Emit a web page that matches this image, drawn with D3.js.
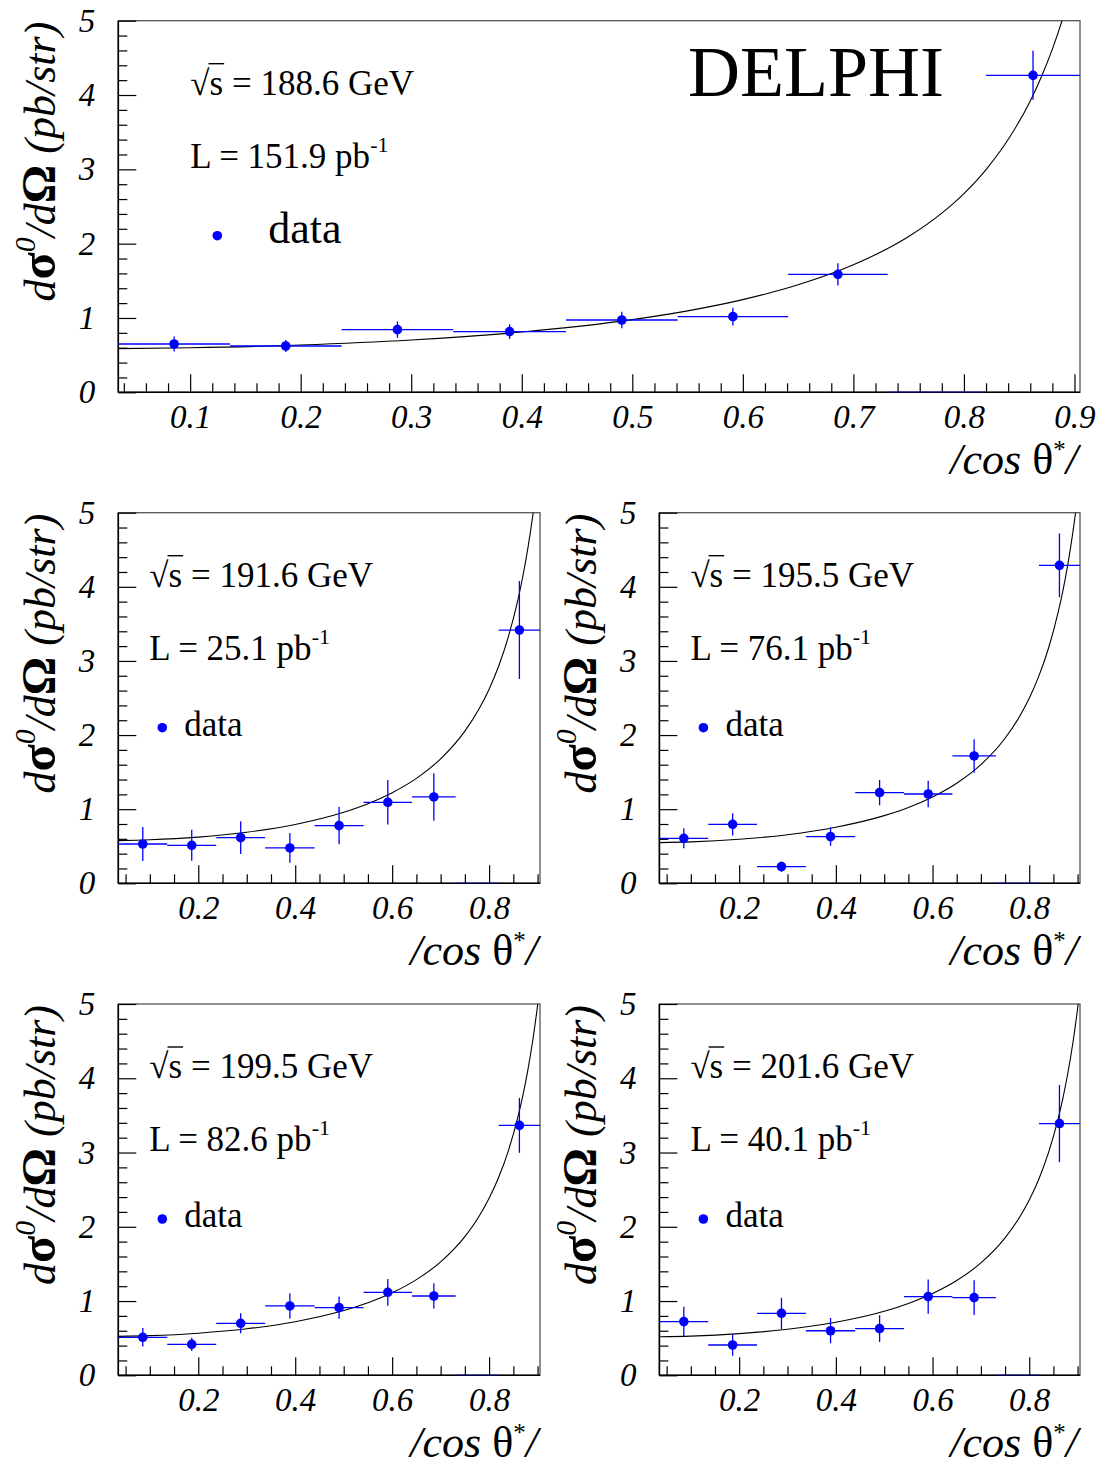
<!DOCTYPE html>
<html>
<head>
<meta charset="utf-8">
<script src="https://cdn.jsdelivr.net/npm/d3@7"></script>
<style>
  body { margin: 0; background: #fff; }
  svg { display: block; }
  text { font-family: "Liberation Serif", "Times New Roman", serif; fill: #000; }
</style>
</head>
<body>
<svg id="chart" width="1102" height="1469"></svg>
<script>
// |cos theta*| bins
const binLo  = [0.035, 0.136, 0.237, 0.338, 0.440, 0.541, 0.641, 0.731, 0.820];
const binHi  = [0.136, 0.237, 0.338, 0.440, 0.541, 0.641, 0.731, 0.820, 0.905];
const binMid = [0.0855, 0.1865, 0.2875, 0.389, 0.4905, 0.591, 0.686, 0.7755, 0.8625];

// measured dsigma/dOmega (pb/str) and errors
const y188 = [0.650, 0.623, 0.843, 0.816, 0.973, 1.018, 1.587, 0, 4.265];
const e188 = [0.10, 0.08, 0.11, 0.10, 0.11, 0.12, 0.15, 0, 0.33];
const y191 = [0.530, 0.513, 0.616, 0.477, 0.778, 1.093, 1.165, 0, 3.417];
const e191 = [0.23, 0.21, 0.22, 0.20, 0.25, 0.30, 0.32, 0, 0.66];
const y195 = [0.607, 0.796, 0.225, 0.630, 1.223, 1.205, 1.718, 0, 4.290];
const e195 = [0.135, 0.15, 0.07, 0.125, 0.17, 0.18, 0.225, 0, 0.43];
const y199 = [0.512, 0.417, 0.700, 0.934, 0.911, 1.118, 1.068, 0, 3.366];
const e199 = [0.125, 0.09, 0.135, 0.17, 0.15, 0.18, 0.17, 0, 0.37];
const y201 = [0.723, 0.408, 0.835, 0.600, 0.628, 1.060, 1.046, 0, 3.390];
const e201 = [0.20, 0.146, 0.21, 0.17, 0.18, 0.23, 0.235, 0, 0.52];

// prediction curves
const curveX = [0.035, 0.1, 0.2, 0.3, 0.4, 0.5, 0.55, 0.6, 0.65, 0.7, 0.75, 0.78, 0.8, 0.82, 0.84, 0.86, 0.87, 0.88, 0.89, 0.9, 0.905];
const c188 = [0.588, 0.599, 0.636, 0.703, 0.811, 0.978, 1.096, 1.247, 1.446, 1.715, 2.096, 2.411, 2.674, 2.997, 3.401, 3.921, 4.242, 4.617, 5.060, 5.592, 5.899];
const c191 = [0.576, 0.587, 0.623, 0.689, 0.794, 0.958, 1.074, 1.222, 1.416, 1.680, 2.054, 2.362, 2.619, 2.935, 3.331, 3.841, 4.156, 4.522, 4.957, 5.478, 5.779];
const c195 = [0.549, 0.559, 0.594, 0.656, 0.757, 0.913, 1.023, 1.165, 1.350, 1.601, 1.957, 2.251, 2.496, 2.798, 3.175, 3.661, 3.960, 4.310, 4.724, 5.220, 5.507];
const c199 = [0.524, 0.534, 0.567, 0.626, 0.722, 0.872, 0.977, 1.111, 1.288, 1.528, 1.868, 2.148, 2.383, 2.670, 3.030, 3.494, 3.780, 4.114, 4.508, 4.982, 5.256];
const c201 = [0.519, 0.528, 0.561, 0.620, 0.715, 0.863, 0.967, 1.101, 1.276, 1.513, 1.850, 2.128, 2.360, 2.644, 3.001, 3.461, 3.744, 4.074, 4.465, 4.935, 5.206];

const energies = ["188.6", "191.6", "195.5", "199.5", "201.6"];
const lumis    = ["151.9", "25.1", "76.1", "82.6", "40.1"];

// ticks
const yMajor = [0, 1, 2, 3, 4, 5];
const yMinor = [0.2, 0.4, 0.6, 0.8, 1.2, 1.4, 1.6, 1.8, 2.2, 2.4, 2.6, 2.8, 3.2, 3.4, 3.6, 3.8, 4.2, 4.4, 4.6, 4.8];
const yLabels = ["0", "1", "2", "3", "4", "5"];
const xMajorTop = [0.1, 0.2, 0.3, 0.4, 0.5, 0.6, 0.7, 0.8, 0.9];
const xLabelsTop = ["0.1", "0.2", "0.3", "0.4", "0.5", "0.6", "0.7", "0.8", "0.9"];
const xMinorTop = [0.04, 0.06, 0.08, 0.12, 0.14, 0.16, 0.18, 0.22, 0.24, 0.26, 0.28, 0.32, 0.34, 0.36, 0.38,
  0.42, 0.44, 0.46, 0.48, 0.52, 0.54, 0.56, 0.58, 0.62, 0.64, 0.66, 0.68, 0.72, 0.74, 0.76, 0.78,
  0.82, 0.84, 0.86, 0.88];
const xMajorSub = [0.2, 0.4, 0.6, 0.8];
const xLabelsSub = ["0.2", "0.4", "0.6", "0.8"];
const xMinorSub = [0.05, 0.1, 0.15, 0.25, 0.3, 0.35, 0.45, 0.5, 0.55, 0.65, 0.7, 0.75, 0.85, 0.9];

const svg = d3.select("#chart");
const blue = "#0000ff";

const panels = [
  { id: 0, y: y188, e: e188, c: c188, x0: 118.3, x1: 1080, y0: 20.7, y1: 392.3, big: true },
  { id: 1, y: y191, e: e191, c: c191, x0: 118.3, x1: 540, y0: 512.7, y1: 883.3 },
  { id: 2, y: y195, e: e195, c: c195, x0: 659.4, x1: 1080, y0: 512.7, y1: 883.3 },
  { id: 3, y: y199, e: e199, c: c199, x0: 118.3, x1: 540, y0: 1004, y1: 1375.3 },
  { id: 4, y: y201, e: e201, c: c201, x0: 659.4, x1: 1080, y0: 1004, y1: 1375.3 }
];

function styleAxis(a, fs) {
  a.select(".domain").remove();
  a.selectAll("line").attr("stroke", "#000").attr("stroke-width", 1.2);
  a.selectAll("text").attr("font-family", "Liberation Serif").attr("font-style", "italic")
    .attr("font-size", fs).attr("fill", "#000");
}

function drawPanel(p) {
  const x = d3.scaleLinear().domain([0.035, 0.905]).range([p.x0, p.x1]);
  const y = d3.scaleLinear().domain([0, 5]).range([p.y1, p.y0]);
  const g = svg.append("g");

  g.append("clipPath").attr("id", "clip" + p.id).append("rect")
    .attr("x", p.x0).attr("y", p.y0).attr("width", p.x1 - p.x0).attr("height", p.y1 - p.y0);

  // frame
  g.append("rect").attr("x", p.x0).attr("y", p.y0)
    .attr("width", p.x1 - p.x0).attr("height", p.y1 - p.y0)
    .attr("fill", "none").attr("stroke", "#555").attr("stroke-width", 1.3);

  // y axis
  g.append("g").attr("transform", `translate(${p.x0},0)`)
    .call(d3.axisLeft(y).tickValues(yMinor).tickSize(-9).tickFormat(""))
    .call(a => styleAxis(a, 32));
  g.append("g").attr("transform", `translate(${p.x0},0)`)
    .call(d3.axisLeft(y).tickValues(yMajor).tickSize(-18).tickPadding(23).tickFormat((d, i) => yLabels[i]))
    .call(a => styleAxis(a, 33));

  // x axis
  const xMaj = p.big ? xMajorTop : xMajorSub;
  const xMin = p.big ? xMinorTop : xMinorSub;
  const xLab = p.big ? xLabelsTop : xLabelsSub;
  g.append("g").attr("transform", `translate(0,${p.y1})`)
    .call(d3.axisBottom(x).tickValues(xMin).tickSize(-9).tickFormat(""))
    .call(a => styleAxis(a, 32));
  g.append("g").attr("transform", `translate(0,${p.y1})`)
    .call(d3.axisBottom(x).tickValues(xMaj).tickSize(-18).tickPadding(12).tickFormat((d, i) => xLab[i]))
    .call(a => styleAxis(a, 33));

  g.append("line").attr("x1", p.x0).attr("x2", p.x0).attr("y1", p.y0).attr("y2", p.y1)
    .attr("stroke", "#000").attr("stroke-width", 1.6);
  g.append("line").attr("x1", p.x0).attr("x2", p.x1).attr("y1", p.y1).attr("y2", p.y1)
    .attr("stroke", "#000").attr("stroke-width", 1.6);

  // prediction
  const line = d3.line().x((d, i) => x(curveX[i])).y(d => y(d)).curve(d3.curveMonotoneX);
  g.append("path").datum(p.c).attr("d", line).attr("fill", "none")
    .attr("stroke", "#000").attr("stroke-width", 1.1).attr("clip-path", `url(#clip${p.id})`);

  // data with errors
  const pts = g.append("g").attr("clip-path", `url(#clip${p.id})`);
  p.y.forEach((v, i) => {
    pts.append("line").attr("x1", x(binLo[i])).attr("x2", x(binHi[i]))
      .attr("y1", y(v)).attr("y2", y(v)).attr("stroke", blue).attr("stroke-width", 1.3);
    if (v > 0) {
      pts.append("line").attr("x1", x(binMid[i])).attr("x2", x(binMid[i]))
        .attr("y1", y(v - p.e[i])).attr("y2", y(v + p.e[i]))
        .attr("stroke", blue).attr("stroke-width", 1.3);
      pts.append("circle").attr("cx", x(binMid[i])).attr("cy", y(v)).attr("r", 4.8).attr("fill", blue);
    }
  });

  // axis titles
  const yt = g.append("text")
    .attr("transform", `translate(${p.x0 - 63},${p.y0 + 1}) rotate(-90)`)
    .attr("text-anchor", "end").attr("font-size", 44);
  yt.append("tspan").attr("font-style", "italic").text("d");
  yt.append("tspan").attr("font-weight", "bold").attr("font-size", 50).text("σ");
  yt.append("tspan").attr("font-style", "italic").attr("font-size", 30).attr("dy", -20).text("0");
  yt.append("tspan").attr("font-style", "italic").attr("dy", 20).text("/d");
  yt.append("tspan").attr("font-weight", "bold").attr("font-size", 48).text("Ω");
  yt.append("tspan").attr("font-style", "italic").text(" (pb/str)");

  const xt = g.append("text").attr("x", p.x1 - 2).attr("y", p.y1 + 82)
    .attr("text-anchor", "end").attr("font-size", 44);
  xt.append("tspan").attr("font-style", "italic").text("/cos ");
  xt.append("tspan").text("θ");
  xt.append("tspan").attr("font-size", 25).attr("dy", -16).text("*");
  xt.append("tspan").attr("font-style", "italic").attr("dy", 16).text("/");

  // legend text
  const lx = p.big ? p.x0 + 72 : p.x0 + 31;
  const t1 = g.append("text").attr("x", lx).attr("y", p.y0 + 74).attr("font-size", 35);
  t1.append("tspan").text("√");
  t1.append("tspan").text("s");
  t1.append("tspan").text(" = " + energies[p.id] + " GeV");
  const n = t1.node();
  const s0 = n.getStartPositionOfChar(1).x, s1 = n.getEndPositionOfChar(1).x;
  g.append("line").attr("x1", s0 - 1).attr("x2", s1 + 1)
    .attr("y1", p.y0 + 74 - 31).attr("y2", p.y0 + 74 - 31)
    .attr("stroke", "#000").attr("stroke-width", 1.4);

  const t2 = g.append("text").attr("x", lx).attr("y", p.y0 + 147).attr("font-size", 35);
  t2.append("tspan").text("L = " + lumis[p.id] + " pb");
  t2.append("tspan").attr("font-size", 22).attr("dy", -16).text("-1");

  if (p.big) {
    g.append("circle").attr("cx", p.x0 + 99).attr("cy", p.y0 + 215).attr("r", 4.8).attr("fill", blue);
    g.append("text").attr("x", p.x0 + 150).attr("y", p.y0 + 222).attr("font-size", 44).text("data");
    g.append("text").attr("x", 688).attr("y", p.y0 + 75).attr("font-size", 72).text("DELPHI");
  } else {
    g.append("circle").attr("cx", p.x0 + 44).attr("cy", p.y0 + 215).attr("r", 4.8).attr("fill", blue);
    g.append("text").attr("x", p.x0 + 66).attr("y", p.y0 + 223).attr("font-size", 35).text("data");
  }
}

panels.forEach(drawPanel);
</script>
</body>
</html>
